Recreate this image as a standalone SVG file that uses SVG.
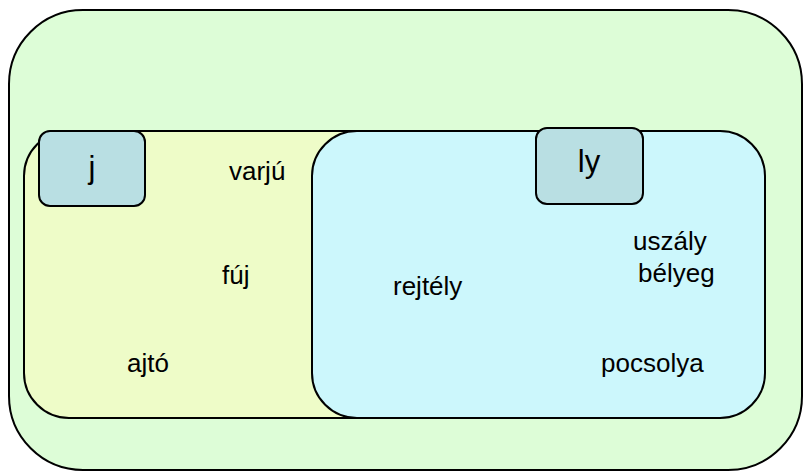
<svg xmlns="http://www.w3.org/2000/svg" width="803" height="472" viewBox="0 0 803 472">
  <style>
    .frame { stroke: #000; stroke-width: 2; }
    .word { font-family: "Liberation Sans", Arial, sans-serif; font-size: 26px; fill: #000; }
    .tag { font-family: "Liberation Sans", Arial, sans-serif; font-size: 31px; fill: #000; text-anchor: middle; }
  </style>
  <rect width="803" height="472" fill="#ffffff"/>
  <!-- outer set -->
  <g id="all">
    <rect class="frame" x="9" y="10" width="793" height="460" rx="74" ry="74" fill="#ddfdd7"/>
  </g>
  <!-- j set -->
  <g id="set-j">
    <rect class="frame" x="24" y="131" width="380" height="287" rx="45" ry="45" fill="#eefcc8"/>
    <text class="word" x="229" y="180">varjú</text>
    <text class="word" x="222" y="284">fúj</text>
    <text class="word" x="127" y="372">ajtó</text>
  </g>
  <!-- ly set -->
  <g id="set-ly">
    <rect class="frame" x="312" y="131" width="453" height="287" rx="45" ry="45" fill="#ccf7fc"/>
    <text class="word" x="393" y="295">rejtély</text>
    <text class="word" x="633" y="250">uszály</text>
    <text class="word" x="638" y="282">bélyeg</text>
    <text class="word" x="601" y="372">pocsolya</text>
  </g>
  <!-- labels -->
  <g id="label-j">
    <rect class="frame" x="39" y="131" width="106" height="75" rx="11" ry="11" fill="#b9dfe3"/>
    <text class="tag" x="92" y="178">j</text>
  </g>
  <g id="label-ly">
    <rect class="frame" x="536" y="128" width="107" height="76" rx="11" ry="11" fill="#b9dfe3"/>
    <text class="tag" x="589" y="172">ly</text>
  </g>
  <g id="connectors"/>
</svg>
